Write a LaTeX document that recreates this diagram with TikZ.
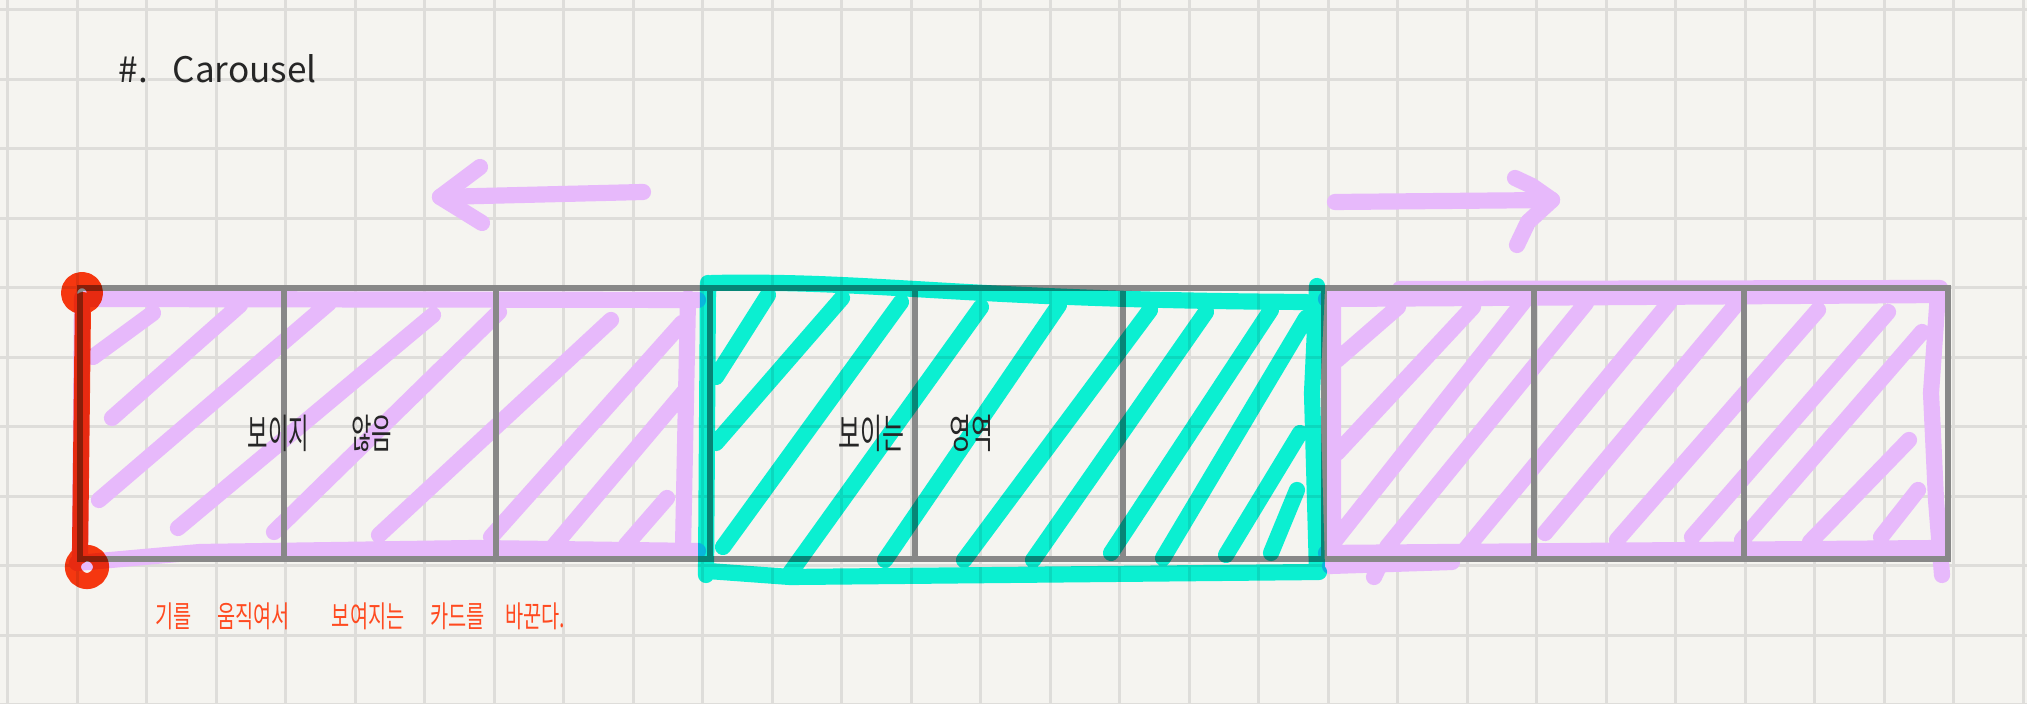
\documentclass[tikz,border=0pt]{standalone}
\usepackage{fontspec}
\usepackage{graphicx}
\newfontfamily\hangul{Noto Sans CJK KR}

\definecolor{paper}{HTML}{F5F4F0}
\definecolor{gridgray}{HTML}{DEDDDA}
\definecolor{cellgray}{HTML}{888888}
\definecolor{lilacpen}{HTML}{E7B9FB}
\definecolor{aquapen}{HTML}{0CFADF}
\definecolor{redpen}{HTML}{FF3A12}
\definecolor{inkblack}{HTML}{262626}
\definecolor{notered}{HTML}{FF4A20}

\begin{document}
\begin{tikzpicture}[
    x=0.01cm, y=-0.01cm,
    gridline/.style={draw=gridgray, line width=0.75pt},
    cell/.style={draw=cellgray, line width=1.5pt},
    pen/.style={line width=4.6pt, line cap=round, line join=round},
    lilac/.style={pen, draw=lilacpen},
    aqua/.style={pen, draw=aquapen, blend mode=multiply},
    marker/.style={pen, draw=redpen, blend mode=multiply},
    every node/.style={font=\hangul, inner sep=0pt}
]

% Paper
\useasboundingbox (0,0) rectangle (2027,704);
\fill[paper] (0,0) rectangle (2027,704);
\foreach \i in {0,...,29}
    \draw[gridline] ({7.7+69.5*\i},0) -- ({7.7+69.5*\i},704);
\foreach \j in {0,...,10}
    \draw[gridline] (0,{9.8+69.5*\j}) -- (2027,{9.8+69.5*\j});

% Hidden cards (left), hatched
\draw[lilac] (82,298) -- (80,556)
    (86,299) -- (698,300)
    (688,298) -- (683,548)
    (77,563) -- (200,552) -- (475,548) -- (698,551)
    \foreach \a/\b/\c/\d in {93/357/153/313, 112/418/240/305, 99/500/329/303,
        178/528/433/315, 274/532/499/312, 379/535/611/320, 491/537/682/323,
        553/547/684/392, 626/545/667/498} {(\a,\b) -- (\c,\d)};

% Hidden cards (right), hatched
\draw[lilac] (1326,299) -- (1942,295)
    (1400,289) -- (1940,288)
    (1333,302) -- (1333,550)
    (1938,293) -- (1931,393) -- (1936,500) -- (1942,575)
    (1326,553) -- (1940,548)
    (1330,566) -- (1452,562)
    (1374,577) -- (1382,560)
    \foreach \a/\b/\c/\d in {1337/360/1398/307, 1337/453/1473/307, 1333/543/1525/300,
        1387/547/1586/303, 1465/550/1669/303, 1545/533/1734/307, 1617/540/1818/310,
        1692/537/1888/312, 1742/540/1922/332, 1810/542/1909/440,
        1881/537/1918/490} {(\a,\b) -- (\c,\d)};

% Card strip
\draw[cell] (80,288) rectangle (1948,559);
\foreach \x in {284,496,710,915,1123,1324,1534,1744}
    \draw[cell] (\x,288) -- (\x,559);

% Visible area
\draw[aqua] (708,283) -- (706,575)
    (712,283) .. controls (880,280) and (960,300) .. (1306,302)
    (1317,286) -- (1312,393) -- (1317,572)
    (708,571) -- (790,577) -- (1319,572)
    \foreach \a/\b/\c/\d in {716/377/768/295, 716/443/842/298, 723/547/901/302,
        790/573/981/307, 885/560/1059/305, 964/560/1150/310, 1033/560/1206/312,
        1111/553/1271/310, 1163/558/1306/318, 1226/555/1300/433,
        1271/553/1297/490} {(\a,\b) -- (\c,\d)};

% Start edge
\draw[marker] (82,293) circle[radius=13]
    (83,300) -- (80,556)
    (87,567) circle[radius=14];

% Swipe arrows
\coordinate (ltip) at (440,197);
\coordinate (rtip) at (1552,200);
\draw[lilac] (643,192) -- (ltip);
\draw[lilac] (480,167) -- (ltip) -- (482,223);
\draw[lilac] (1335,202) -- (rtip);
\draw[lilac] (1515,178) -- (1532,186) -- (rtip) -- (1528,222) -- (1517,245);

% Texts
\node[anchor=base west, text=inkblack, font=\hangul\fontsize{10pt}{12pt}\selectfont]
    (title) at (118,83) {\#.\hspace{7pt}Carousel};
\node[text=inkblack, font=\hangul\fontsize{11.5pt}{13pt}\selectfont]
    (hidden) at (320,433) {\scalebox{0.55}[1]{보이지\hspace{22pt}않음}};
\node[text=inkblack, font=\hangul\fontsize{11.5pt}{13pt}\selectfont]
    (visible) at (916,433) {\scalebox{0.59}[1]{보이는\hspace{22pt}영역}};
\node[anchor=west, text=notered, font=\hangul\fontsize{8.5pt}{10pt}\selectfont]
    (note) at (155,616) {\scalebox{0.66}[1]{기를\hspace{11pt}움직여서\hspace{18pt}보여지는\hspace{11pt}카드를\hspace{9pt}바꾼다.}};

\end{tikzpicture}
\end{document}
